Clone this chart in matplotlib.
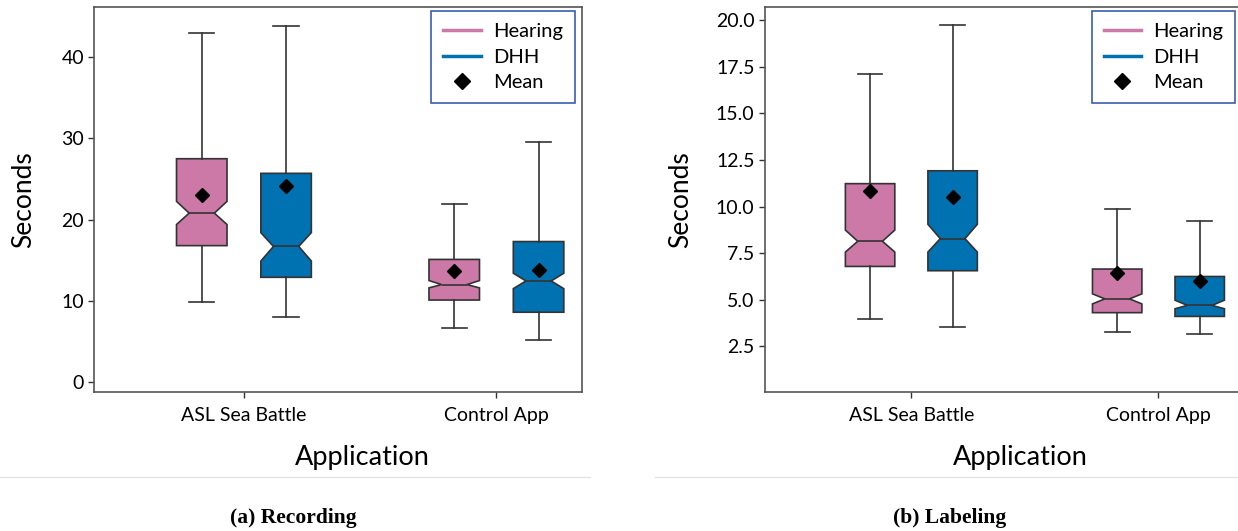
import matplotlib.pyplot as plt
from matplotlib.lines import Line2D

apps = ["ASL Sea Battle", "Control App"]
groups = ["Hearing", "DHH"]
colors = ["#CC79A7", "#0072B2"]

# (a) Recording, seconds; one value per app
rec_hearing = dict(whislo=[9.9, 6.7], q1=[16.8, 10.1], med=[20.8, 12.0], q3=[27.5, 15.1],
                   whishi=[43.0, 21.9], mean=[23.0, 13.7], cilo=[19.4, 11.6], cihi=[22.25, 12.5])
rec_dhh = dict(whislo=[8.0, 5.15], q1=[12.9, 8.6], med=[16.7, 12.45], q3=[25.7, 17.3],
               whishi=[43.9, 29.5], mean=[24.2, 13.8], cilo=[14.9, 11.5], cihi=[18.4, 13.4])

# (b) Labeling, seconds
lab_hearing = dict(whislo=[3.98, 3.29], q1=[6.79, 4.31], med=[8.14, 5.05], q3=[11.23, 6.65],
                   whishi=[17.13, 9.86], mean=[10.81, 6.43], cilo=[7.56, 4.78], cihi=[8.74, 5.32])
lab_dhh = dict(whislo=[3.54, 3.14], q1=[6.56, 4.11], med=[8.28, 4.70], q3=[11.92, 6.25],
               whishi=[19.76, 9.25], mean=[10.54, 6.01], cilo=[7.56, 4.52], cihi=[9.05, 4.98])

plt.rcParams['font.family'] = ['Lato', 'DejaVu Sans']

fig = plt.figure(figsize=(12.38, 5.31), dpi=100)
ax1 = fig.add_axes([0.0762, 0.2623, 0.3937, 0.724])
ax2 = fig.add_axes([0.6179, 0.2623, 0.3853, 0.724])

edge = "#333333"


def draw(ax, series, ylim, yticks, ylab_x, xlab_x):
    offsets = [-0.167, 0.167]
    for s, off, c in zip(series, offsets, colors):
        stats = []
        for i in range(len(apps)):
            d = {k: v[i] for k, v in s.items()}
            d['fliers'] = []
            stats.append(d)
        ax.bxp(stats, positions=[i + off for i in range(len(apps))], widths=0.2,
               shownotches=True, showmeans=True, patch_artist=True, manage_ticks=False,
               boxprops=dict(facecolor=c, edgecolor=edge, linewidth=1.2),
               whiskerprops=dict(color=edge, linewidth=1.2),
               capprops=dict(color=edge, linewidth=1.2),
               medianprops=dict(color=edge, linewidth=1.2),
               meanprops=dict(marker='D', markerfacecolor='black', markeredgecolor='black',
                              markersize=7.5))
    ax.set_xlim(-0.5925, 1.338)
    ax.set_ylim(*ylim)
    ax.set_yticks(yticks)
    ax.set_xticks(range(len(apps)))
    ax.set_xticklabels(apps)
    ax.tick_params(axis='both', labelsize=14, length=4, color=edge, width=1)
    ax.tick_params(axis='x', pad=7)
    for sp in ax.spines.values():
        sp.set_color("#555555")
        sp.set_linewidth(1.2)
    ax.set_ylabel("Seconds", fontsize=19)
    ax.set_xlabel("Application", fontsize=19.5)
    ax.yaxis.set_label_coords(ylab_x, 0.5)
    ax.xaxis.set_label_coords(xlab_x, -0.138)
    handles = [Line2D([], [], color=colors[0], lw=2.5, label=groups[0]),
               Line2D([], [], color=colors[1], lw=2.5, label=groups[1]),
               Line2D([], [], marker='D', color='black', ls='none', markersize=8.5, label="Mean")]
    leg = ax.legend(handles=handles, loc='upper right', fontsize=14.5, fancybox=False,
                    framealpha=1, edgecolor="#3a5db0", borderaxespad=0,
                    bbox_to_anchor=(1 - 7 / 487, 1 - 3.7 / 384), handlelength=1.85,
                    handletextpad=0.6, labelspacing=0.42, borderpad=0.6)
    leg.get_frame().set_linewidth(1.2)


draw(ax1, [rec_hearing, rec_dhh], (-1.19, 46.15), [0, 10, 20, 30, 40], -0.12, 0.549)
draw(ax2, [lab_hearing, lab_dhh], (0.07, 20.69), [2.5, 5.0, 7.5, 10.0, 12.5, 15.0, 17.5, 20.0],
     -0.15, 0.535)
ax2.set_yticklabels(["2.5", "5.0", "7.5", "10.0", "12.5", "15.0", "17.5", "20.0"])

y_line = 1 - 477 / 531
fig.add_artist(Line2D([0, 590 / 1238], [y_line, y_line], color="#e4e4e4", lw=1))
fig.add_artist(Line2D([655 / 1238, 1], [y_line, y_line], color="#e4e4e4", lw=1))

fig.text(293 / 1238, 1 - 518 / 531, "(a) Recording", ha='center', va='center',
         family='Liberation Serif', weight='bold', fontsize=15.5)
fig.text(950 / 1238, 1 - 518 / 531, "(b) Labeling", ha='center', va='center',
         family='Liberation Serif', weight='bold', fontsize=15.5)

fig.savefig("out.png", dpi=100)
